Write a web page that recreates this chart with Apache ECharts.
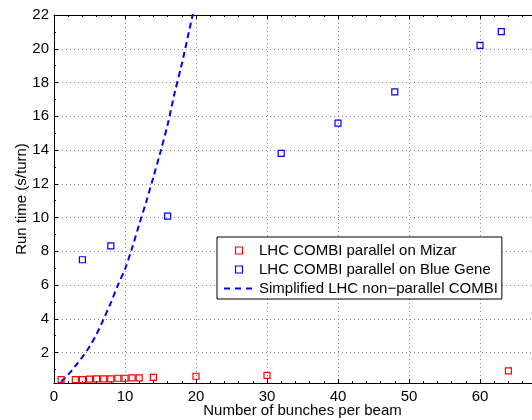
<!DOCTYPE html>
<html>
<head>
<meta charset="utf-8">
<script src="https://cdn.jsdelivr.net/npm/echarts@6/dist/echarts.min.js"></script>
<style>html,body{margin:0;padding:0;background:#fff;}#c{width:532px;height:420px;}</style>
</head>
<body>
<div id="c"></div>
<script>
// Data
var mizarX = [1, 3, 4, 5, 6, 7, 8, 9, 10, 11, 12, 14, 20, 30, 64];
var mizarY = [0.40, 0.40, 0.40, 0.43, 0.44, 0.44, 0.45, 0.48, 0.48, 0.50, 0.50, 0.53, 0.60, 0.65, 0.92];
var blueGeneX = [4, 8, 16, 32, 40, 48, 60, 63];
var blueGeneY = [7.5, 8.32, 10.09, 13.8, 15.6, 17.45, 20.2, 21.02];
var simpleX = [1, 2, 3, 4, 5, 6, 7, 8, 9, 10, 11, 12, 13, 14, 15, 16, 17, 18, 19, 20];
var simpleY = [0.27, 0.7, 1.2, 1.75, 2.35, 3.1, 4.0, 4.95, 6.0, 6.95, 8.2, 9.6, 10.95, 12.4, 13.9, 15.5, 17.4, 19.1, 21.0, 22.9];
var yTickLabels = [2, 4, 6, 8, 10, 12, 14, 16, 18, 20, 22];
var yMinorTicks = [1, 2, 3, 4, 5, 6, 7, 8, 9, 10, 11, 12, 13, 14, 15, 16, 17, 18, 19, 20, 21, 22];
var seriesNames = ['LHC COMBI parallel on Mizar', 'LHC COMBI parallel on Blue Gene', 'Simplified LHC non\u2212parallel COMBI'];

function pairs(xs, ys) { return xs.map(function (x, i) { return [x, ys[i]]; }); }

var FONT = "'Liberation Sans', Arial, Helvetica, sans-serif";
var chart = echarts.init(document.getElementById('c'), null, { renderer: 'canvas' });
var gridLine = { show: true, lineStyle: { color: '#8a8a8a', type: [1, 3], width: 1 } };
var axisLine = { show: true, onZero: false, lineStyle: { color: '#000', width: 1 } };
var SQUARE = 'path://M0,0H10V10H0Z';

chart.setOption({
  animation: false,
  backgroundColor: '#fff',
  grid: { left: 54, top: 15, bottom: 37, right: -19, containLabel: false, outerBoundsMode: 'none' },
  xAxis: [{
    type: 'value', min: 0, max: 70, interval: 10, position: 'bottom',
    axisLine: axisLine,
    axisTick: { show: true, inside: true, length: 4, lineStyle: { color: '#000' } },
    minorTick: { show: true, splitNumber: 5, length: 2, lineStyle: { color: '#000' } },
    axisLabel: { color: '#000', fontSize: 15, fontFamily: FONT, margin: 6 },
    splitLine: gridLine,
    name: 'Number of bunches per beam', nameLocation: 'middle', nameGap: 20, nameMoveOverlap: false,
    nameTextStyle: { color: '#000', fontSize: 15, fontFamily: FONT }
  }, {
    type: 'value', min: 0, max: 70, interval: 10, position: 'top',
    axisLine: axisLine,
    axisTick: { show: true, inside: true, length: 4, lineStyle: { color: '#000' } },
    minorTick: { show: true, splitNumber: 5, length: 2, lineStyle: { color: '#000' } },
    axisLabel: { show: false }, splitLine: { show: false }
  }],
  yAxis: [{
    type: 'value', min: 0.2, max: 22, position: 'left',
    axisLine: axisLine,
    axisTick: { show: true, inside: true, length: 4, customValues: yTickLabels, lineStyle: { color: '#000' } },
    axisLabel: { color: '#000', fontSize: 15, fontFamily: FONT, margin: 5, customValues: yTickLabels },
    splitLine: gridLine,
    name: 'Run time (s/turn)', nameLocation: 'middle', nameGap: 25, nameMoveOverlap: false,
    nameTextStyle: { color: '#000', fontSize: 15, fontFamily: FONT }
  }, {
    type: 'value', min: 0.2, max: 22, position: 'left',
    axisLine: { show: false },
    axisTick: { show: true, inside: true, length: 2, customValues: yMinorTicks, lineStyle: { color: '#000' } },
    axisLabel: { show: false, customValues: yMinorTicks },
    splitLine: { show: false }
  }],
  legend: {
    orient: 'vertical', left: 217, top: 237,
    padding: [6, 4, 3, 6], itemGap: 4, itemWidth: 30, itemHeight: 7,
    backgroundColor: '#fff', borderColor: '#000', borderWidth: 1, borderRadius: 0,
    textStyle: { color: '#000', fontSize: 15, fontFamily: FONT },
    symbolKeepAspect: true,
    data: [
      { name: seriesNames[0], icon: SQUARE, itemStyle: { color: 'rgba(0,0,0,0)', borderColor: '#ff0000', borderWidth: 1.2 } },
      { name: seriesNames[1], icon: SQUARE, itemStyle: { color: 'rgba(0,0,0,0)', borderColor: '#0000ff', borderWidth: 1.2 } },
      { name: seriesNames[2], itemStyle: { opacity: 0 }, lineStyle: { color: '#0000ff', width: 2, type: [6, 5], opacity: 1 } }
    ]
  },
  series: [{
    name: seriesNames[0], type: 'scatter', symbol: 'rect', symbolSize: 6,
    itemStyle: { color: 'rgba(0,0,0,0)', borderColor: '#ff0000', borderWidth: 1.2, opacity: 1 },
    data: pairs(mizarX, mizarY), z: 5
  }, {
    name: seriesNames[1], type: 'scatter', symbol: 'rect', symbolSize: 6,
    itemStyle: { color: 'rgba(0,0,0,0)', borderColor: '#0000ff', borderWidth: 1.2, opacity: 1 },
    data: pairs(blueGeneX, blueGeneY), z: 5
  }, {
    name: seriesNames[2], type: 'line', showSymbol: false, symbol: 'none', smooth: 0.3, clip: true,
    lineStyle: { color: '#0000ff', width: 2, type: [6, 4] },
    itemStyle: { color: '#0000ff' },
    data: pairs(simpleX, simpleY), z: 4
  }]
});
</script>
</body>
</html>
